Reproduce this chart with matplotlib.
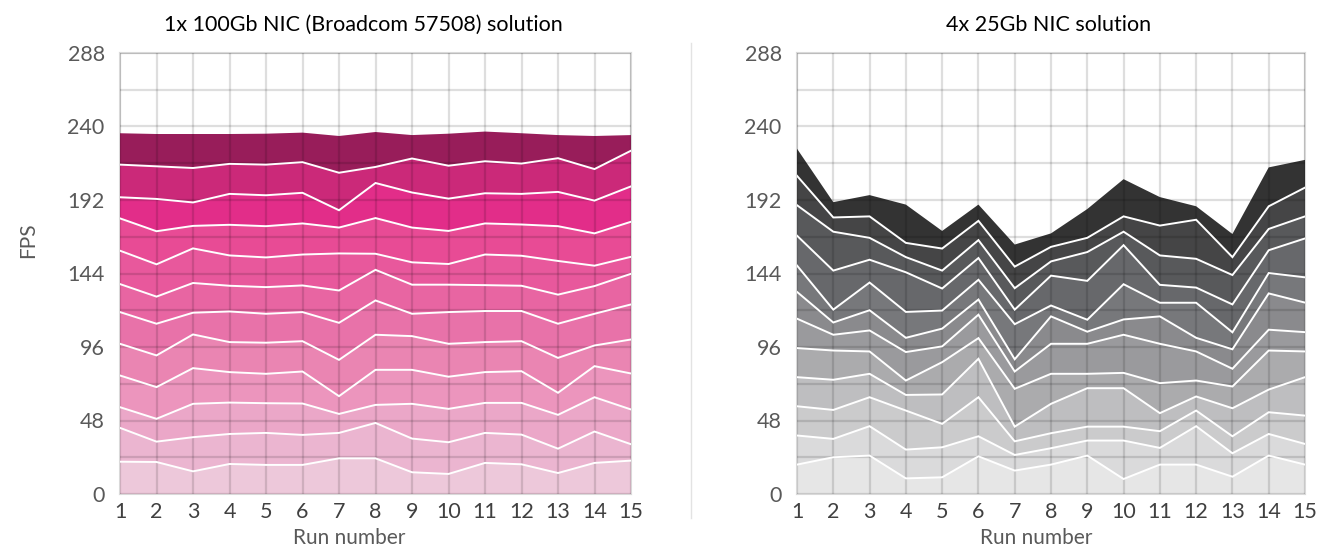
import numpy as np
import matplotlib
matplotlib.use("Agg")
import matplotlib.pyplot as plt
from matplotlib.ticker import MultipleLocator

plt.rcParams['font.family'] = ['Lato', 'DejaVu Sans']

runs = list(range(1, 16))

# ---- 1x 100Gb NIC (Broadcom 57508): FPS per stream (stack order bottom -> top)
nic100_s01 = [21.1, 20.9, 14.8, 19.6, 19.0, 19.0, 23.3, 23.3, 14.2, 13.1, 20.3, 19.4, 13.7, 20.3, 21.8]
nic100_s02 = [22.1, 13.3, 22.3, 19.6, 20.9, 19.6, 16.6, 23.1, 22.0, 20.7, 19.6, 19.4, 15.9, 20.5, 10.7]
nic100_s03 = [13.5, 14.9, 21.8, 20.5, 19.4, 20.5, 12.4, 11.8, 22.7, 21.8, 19.6, 20.7, 22.1, 22.4, 22.7]
nic100_s04 = [20.7, 20.7, 23.3, 19.9, 19.2, 20.9, 11.6, 22.9, 22.2, 21.0, 20.1, 20.7, 14.4, 20.3, 23.5]
nic100_s05 = [20.7, 20.7, 22.0, 19.6, 20.3, 19.8, 23.7, 22.9, 22.0, 21.5, 19.6, 19.6, 22.8, 13.5, 22.2]
nic100_s06 = [20.7, 20.7, 14.2, 20.0, 18.9, 19.0, 24.2, 22.4, 14.6, 20.7, 20.3, 19.7, 22.3, 20.7, 22.9]
nic100_s07 = [18.3, 17.7, 19.4, 16.8, 17.4, 17.4, 21.1, 20.0, 19.0, 17.9, 16.9, 16.5, 19.0, 18.1, 20.0]
nic100_s08 = [21.8, 21.1, 22.6, 19.8, 19.4, 20.2, 24.2, 10.5, 14.6, 13.5, 20.0, 19.6, 22.0, 13.3, 11.1]
nic100_s09 = [21.1, 21.6, 14.7, 20.0, 20.4, 20.3, 16.9, 23.3, 22.7, 21.6, 20.3, 20.4, 22.7, 21.1, 22.9]
nic100_s10 = [13.8, 21.1, 15.3, 20.2, 20.2, 20.0, 11.3, 22.9, 22.9, 21.1, 19.7, 20.0, 22.4, 21.4, 23.1]
nic100_s11 = [21.3, 21.3, 22.5, 19.6, 20.0, 20.0, 24.5, 10.5, 22.2, 21.5, 20.9, 19.8, 22.0, 20.6, 23.3]
nic100_s12 = [20.5, 21.1, 22.2, 19.5, 20.2, 19.3, 24.0, 22.8, 15.3, 20.9, 19.4, 19.8, 15.1, 21.6, 10.2]

# ---- 4x 25Gb NIC: FPS per stream (stack order bottom -> top)
nic25_s01 = [19.2, 24.0, 25.1, 10.2, 10.9, 24.6, 15.3, 19.2, 25.1, 9.8, 19.2, 19.2, 11.3, 25.1, 19.2]
nic25_s02 = [19.0, 12.0, 19.2, 18.8, 19.6, 13.1, 10.2, 10.7, 9.8, 25.1, 10.9, 25.1, 15.3, 14.1, 13.5]
nic25_s03 = [19.1, 18.9, 18.9, 25.5, 15.3, 25.5, 8.9, 9.8, 9.1, 9.1, 10.9, 10.2, 11.1, 14.2, 18.5]
nic25_s04 = [19.0, 19.7, 15.3, 10.2, 19.2, 25.1, 9.6, 19.2, 25.1, 25.1, 11.8, 9.2, 18.3, 14.8, 25.1]
nic25_s05 = [19.0, 19.1, 14.6, 9.4, 21.1, 13.5, 24.7, 19.6, 9.4, 10.0, 19.6, 10.4, 14.2, 25.5, 16.8]
nic25_s06 = [19.2, 10.3, 13.7, 18.6, 10.3, 15.3, 11.3, 19.6, 19.6, 24.9, 25.7, 19.0, 11.6, 13.6, 12.6]
nic25_s07 = [17.5, 8.0, 13.2, 9.3, 11.6, 9.9, 8.0, 17.9, 7.9, 10.0, 17.9, 8.9, 12.7, 23.7, 19.3]
nic25_s08 = [17.2, 8.4, 18.1, 16.9, 11.8, 12.9, 22.9, 7.1, 7.8, 23.0, 8.9, 22.9, 11.1, 13.3, 16.5]
nic25_s09 = [19.5, 25.5, 14.9, 25.9, 14.4, 14.2, 9.5, 19.5, 25.4, 25.5, 11.7, 9.9, 18.2, 14.9, 25.4]
nic25_s10 = [19.9, 25.4, 14.3, 9.9, 11.7, 11.7, 14.0, 9.3, 18.8, 8.8, 19.2, 18.8, 19.2, 13.9, 14.4]
nic25_s11 = [19.2, 9.3, 14.0, 9.3, 14.4, 12.6, 14.1, 9.5, 9.3, 10.0, 19.5, 25.5, 11.7, 14.8, 18.8]
nic25_s12 = [17.7, 10.0, 13.9, 25.0, 11.5, 10.6, 14.4, 8.8, 18.8, 24.3, 18.6, 8.8, 15.1, 25.4, 18.1]

nic100_series = [nic100_s01, nic100_s02, nic100_s03, nic100_s04, nic100_s05, nic100_s06,
                 nic100_s07, nic100_s08, nic100_s09, nic100_s10, nic100_s11, nic100_s12]
nic25_series = [nic25_s01, nic25_s02, nic25_s03, nic25_s04, nic25_s05, nic25_s06,
                nic25_s07, nic25_s08, nic25_s09, nic25_s10, nic25_s11, nic25_s12]

pink_colors = ['#EDC8DA', '#EBB5D0', '#EBA7C8', '#EC95BD', '#EA85B2', '#E872A9',
               '#E865A2', '#E8589C', '#E84B95', '#E22D89', '#CB2979', '#981D5A']
gray_colors = ['#E6E6E6', '#DADADB', '#CBCBCC', '#BEBEC0', '#ABABAD', '#9A9A9D',
               '#8A8A8D', '#77787B', '#67686B', '#58595B', '#454546', '#333333']

y_ticks = [0, 48, 96, 144, 192, 240, 288]
titles = ['1x 100Gb NIC (Broadcom 57508) solution', '4x 25Gb NIC solution']

W, H = 1318, 547
fig = plt.figure(figsize=(W / 100, H / 100), dpi=100)

axes_px = [(120, 631), (797, 1305)]
title_x = [363, 1049]
top_px, bot_px = 53, 494


def draw(ax, series, colors):
    x = np.array(runs)
    ax.stackplot(x, *series, colors=colors, linewidth=0, zorder=1)
    cum = np.cumsum(np.array(series), axis=0)
    for row in cum[:-1]:
        ax.plot(x, row, color='white', lw=1.4, zorder=3, solid_joinstyle='miter')
    ax.set_xlim(1, 15)
    ax.set_ylim(0, 288)
    ax.set_xticks(runs)
    ax.set_yticks(y_ticks)
    ax.yaxis.set_minor_locator(MultipleLocator(24))
    ax.set_axisbelow(False)
    ax.grid(True, which='both', axis='both', color='black', alpha=0.13, lw=1.6)
    ax.tick_params(which='both', length=0)
    ax.tick_params(axis='y', labelsize=15.5, labelcolor='#595959', pad=11)
    ax.tick_params(axis='x', labelsize=15.5, labelcolor='#404040', pad=6)
    for s in ax.spines.values():
        s.set_color('#D9D9D9')
        s.set_linewidth(1.5)
        s.set_zorder(0.5)


for (l, r), tx, series, colors, title in zip(axes_px, title_x, [nic100_series, nic25_series],
                                             [pink_colors, gray_colors], titles):
    ax = fig.add_axes([l / W, 1 - bot_px / H, (r - l) / W, (bot_px - top_px) / H])
    draw(ax, series, colors)
    fig.text(tx / W, 1 - 25 / H, title, ha='center', va='center', fontsize=15.5, color='black')

fig.text(349 / W, 1 - 538 / H, 'Run number', ha='center', va='center', fontsize=15, color='#595959')
fig.text(1036 / W, 1 - 538 / H, 'Run number', ha='center', va='center', fontsize=15, color='#595959')
fig.text(28 / W, 1 - 240 / H, 'FPS', ha='center', va='center', rotation=90, fontsize=15, color='#595959')

# separator line between the two panels
fig.add_artist(plt.Line2D([691 / W, 691 / W], [1 - 43 / H, 1 - 518 / H],
                          color='#E3E3E3', lw=1.0, transform=fig.transFigure))

fig.savefig('out.png', dpi=100)
